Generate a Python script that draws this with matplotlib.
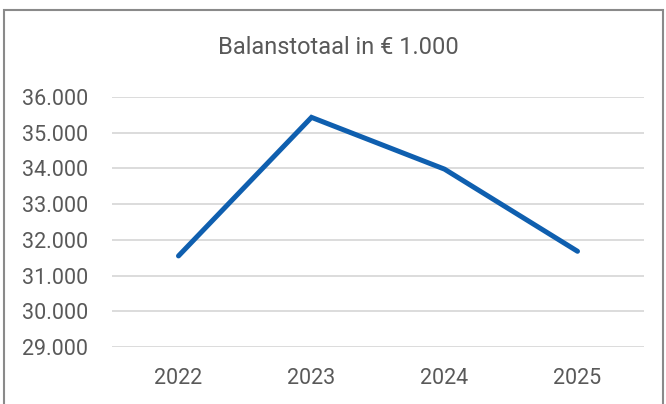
import matplotlib.pyplot as plt
from matplotlib.patches import Rectangle
from matplotlib.ticker import FuncFormatter

years = ["2022", "2023", "2024", "2025"]
totals = [31550, 35430, 33980, 31680]
y_ticks = [29000, 30000, 31000, 32000, 33000, 34000, 35000, 36000]

plt.rcParams['font.family'] = ['Roboto', 'DejaVu Sans']
text_col = '#595959'

fig = plt.figure(figsize=(6.66, 4.04), dpi=100)
# chart border (cut off at the bottom like the screenshot)
fig.patches.append(Rectangle((4 / 666, -0.1), 659 / 666, 1.1 - 10 / 404,
                             transform=fig.transFigure, fill=False,
                             edgecolor='#8a8a8a', linewidth=1.5))

ax = fig.add_axes([112 / 666, 1 - 347 / 404, 532 / 666, 250 / 404])
x = range(len(years))
ax.plot(x, totals, color='#0F5FAF', linewidth=3.6, solid_capstyle='round',
        solid_joinstyle='miter')

ax.set_xlim(-0.5, len(years) - 0.5)
ax.set_ylim(29000, 36000)
ax.set_yticks(y_ticks)
ax.yaxis.set_major_formatter(FuncFormatter(lambda v, p: f"{int(v):,}".replace(",", ".")))
ax.set_xticks(list(x))
ax.set_xticklabels(years)
ax.grid(axis='y', color='#d9d9d9', linewidth=1.3)
ax.set_axisbelow(True)
for s in ax.spines.values():
    s.set_visible(False)
ax.tick_params(length=0, labelsize=15.5, labelcolor=text_col)
ax.tick_params(axis='y', pad=17)
ax.tick_params(axis='x', pad=15)

fig.text(338 / 666, 1 - 48 / 404, "Balanstotaal in € 1.000", ha='center',
         va='center', fontsize=17, color=text_col)

fig.savefig("out.png", dpi=100)
